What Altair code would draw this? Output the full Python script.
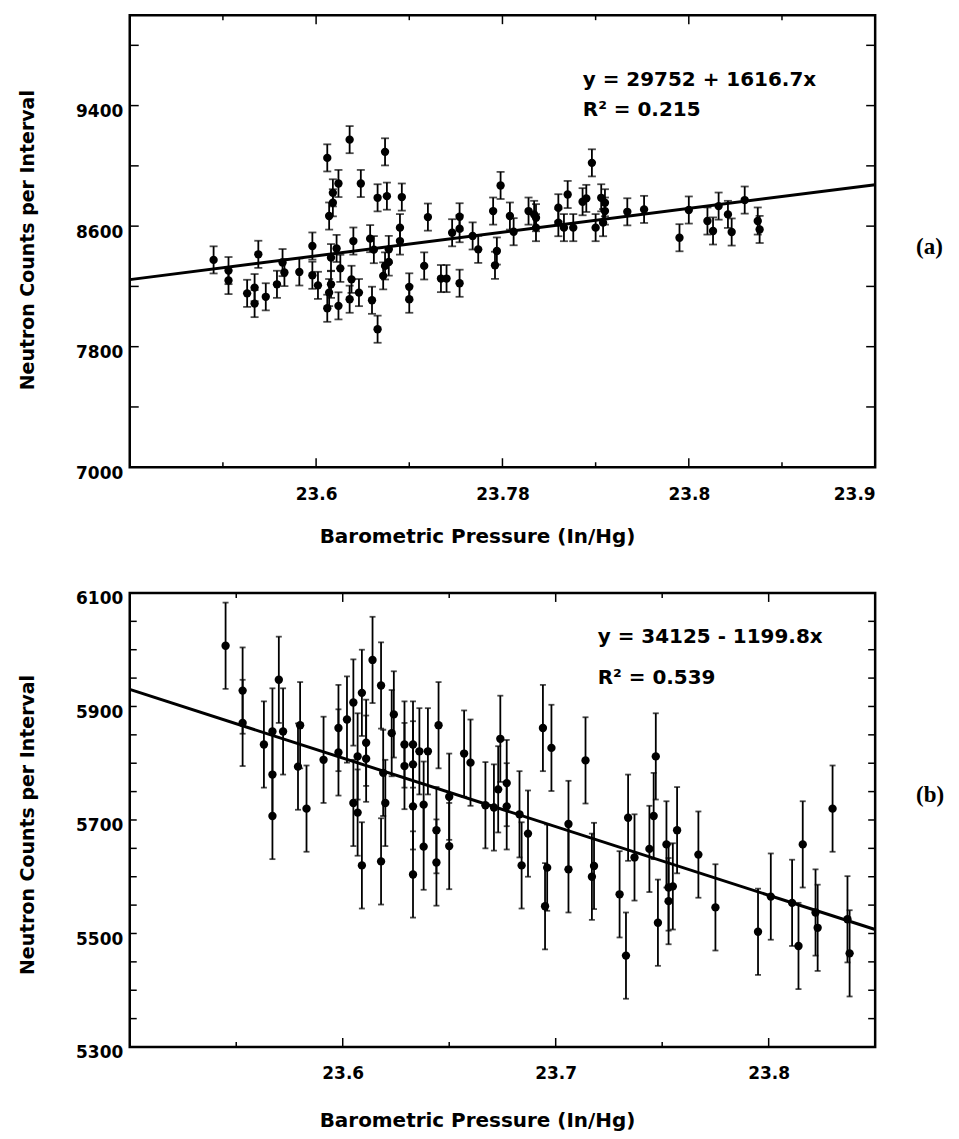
import altair as alt
import pandas as pd

# ---------------- Panel (a) ----------------
A_X = [23.545, 23.553, 23.553, 23.563, 23.567, 23.567, 23.569, 23.573, 23.579, 23.582,
       23.583, 23.591, 23.598, 23.598, 23.601, 23.606, 23.607, 23.609, 23.609, 23.612,
       23.608, 23.611, 23.608, 23.607, 23.606, 23.613, 23.612, 23.618, 23.619, 23.618,
       23.620, 23.623, 23.624, 23.630, 23.633, 23.629, 23.631, 23.633, 23.637, 23.638,
       23.636, 23.637, 23.639, 23.639, 23.646, 23.645, 23.645, 23.650, 23.650, 23.658,
       23.660, 23.667, 23.670, 23.677, 23.673, 23.677, 23.677, 23.684, 23.687, 23.695,
       23.697, 23.696, 23.699, 23.704, 23.706, 23.714, 23.717, 23.718, 23.718, 23.730,
       23.735, 23.733, 23.738, 23.730, 23.743, 23.745, 23.748, 23.750, 23.753, 23.755,
       23.755, 23.754, 23.767, 23.776, 23.795, 23.800, 23.810, 23.813, 23.816, 23.821,
       23.823, 23.830, 23.837, 23.838]
A_Y = [8376, 8305, 8239, 8154, 8192, 8086, 8413, 8131, 8214, 8358,
       8292, 8296, 8468, 8274, 8207, 9053, 8667, 8755, 8821, 8883,
       8391, 8452, 8214, 8159, 8055, 8320, 8071, 9174, 8247, 8115,
       8501, 8159, 8883, 8108, 7916, 8517, 8444, 8788, 9093, 8799,
       8270, 8336, 8362, 8446, 8793, 8590, 8501, 8197, 8115, 8336,
       8660, 8252, 8252, 8221, 8556, 8662, 8583, 8535, 8446, 8700,
       8435, 8340, 8870, 8667, 8563, 8700, 8678, 8656, 8590, 8722,
       8810, 8590, 8590, 8623, 8762, 8784, 9020, 8590, 8788, 8755,
       8700, 8623, 8695, 8711, 8523, 8707, 8634, 8568, 8733, 8678,
       8561, 8773, 8634, 8578]
A_ERR = 90
A_FIT_X = [23.5, 23.9]
A_FIT_Y = [8245, 8875]
A_XDOMAIN = [23.5, 23.9]
A_YDOMAIN = [7000, 10000]
A_XLABEL_VALUES = [23.6, 23.7, 23.8, 23.9]
A_XLABEL_TEXT = ["23.6", "23.78", "23.8", "23.9"]
A_YLABEL_VALUES = [7000, 7800, 8600, 9400]
A_XTICKS_MAJOR = [23.6, 23.7, 23.8]
A_XTICKS_MINOR = [23.55, 23.65, 23.75, 23.85]
A_YTICKS = [7400, 7800, 8200, 8600, 9000, 9400, 9800]
A_EQ = "y = 29752 + 1616.7x"
A_R2 = "R² = 0.215"
A_TAG = "(a)"

# ---------------- Panel (b) ----------------
B_X = [23.545, 23.553, 23.553, 23.563, 23.567, 23.567, 23.567, 23.570, 23.572, 23.580,
       23.579, 23.583, 23.591, 23.598, 23.598, 23.602, 23.605, 23.605, 23.607, 23.607,
       23.609, 23.609, 23.611, 23.611, 23.614, 23.618, 23.618, 23.619, 23.620, 23.623,
       23.624, 23.629, 23.633, 23.629, 23.633, 23.636, 23.640, 23.633, 23.638, 23.633,
       23.638, 23.645, 23.644, 23.644, 23.650, 23.650, 23.657, 23.660, 23.667, 23.674,
       23.673, 23.671, 23.677, 23.677, 23.683, 23.684, 23.687, 23.694, 23.698, 23.696,
       23.695, 23.706, 23.706, 23.714, 23.718, 23.717, 23.730, 23.733, 23.734, 23.737,
       23.744, 23.746, 23.747, 23.748, 23.752, 23.753, 23.753, 23.755, 23.757, 23.767,
       23.775, 23.795, 23.801, 23.811, 23.814, 23.816, 23.822, 23.823, 23.830, 23.837,
       23.838]
B_Y = [6007, 5928, 5871, 5833, 5856, 5780, 5707, 5947, 5856, 5867,
       5794, 5720, 5806, 5862, 5819, 5877, 5907, 5730, 5812, 5713,
       5620, 5924, 5836, 5808, 5982, 5937, 5627, 5783, 5730, 5853,
       5886, 5833, 5833, 5795, 5798, 5821, 5821, 5724, 5727, 5604,
       5653, 5867, 5682, 5625, 5741, 5654, 5817, 5801, 5726, 5843,
       5754, 5722, 5765, 5724, 5710, 5620, 5676, 5862, 5827, 5616,
       5548, 5693, 5613, 5805, 5619, 5600, 5569, 5461, 5704, 5634,
       5649, 5707, 5812, 5519, 5657, 5581, 5557, 5583, 5682, 5639,
       5546, 5503, 5565, 5554, 5478, 5657, 5537, 5510, 5720, 5525,
       5465]
B_ERR = 76
B_FIT_X = [23.5, 23.85]
B_FIT_Y = [5930, 5507]
B_XDOMAIN = [23.5, 23.85]
B_YDOMAIN = [5300, 6100]
B_XLABEL_VALUES = [23.6, 23.7, 23.8]
B_XLABEL_TEXT = ["23.6", "23.7", "23.8"]
B_YLABEL_VALUES = [5300, 5500, 5700, 5900, 6100]
B_XTICKS_MAJOR = [23.6, 23.7, 23.8]
B_XTICKS_MINOR = [23.55, 23.65, 23.75]
B_YTICKS = [5350, 5400, 5450, 5500, 5550, 5600, 5650, 5700, 5750, 5800,
            5850, 5900, 5950, 6000, 6050]
B_EQ = "y = 34125 - 1199.8x"
B_R2 = "R² = 0.539"
B_TAG = "(b)"

X_TITLE = "Barometric Pressure (In/Hg)"
Y_TITLE = "Neutron Counts per Interval"

W = 747
SANS = "DejaVu Sans"


def panel(xs, ys, err, fit_x, fit_y, xdom, ydom, xlab_vals, xlab_text, ylab_vals,
          xt_major, xt_minor, yticks, eq, r2, tag, H, eq_x, eq_y1, eq_y2, tag_y,
          xtitle_y, ytitle_y, cap, ytick_len):
    pts = pd.DataFrame({"x": xs, "y": ys})
    pts["lo"] = pts["y"] - err
    pts["hi"] = pts["y"] + err
    xsc = alt.Scale(domain=xdom, nice=False, zero=False)
    ysc = alt.Scale(domain=ydom, nice=False, zero=False)
    label_expr = ("[" + ",".join("'%s'" % t for t in xlab_text) + "][indexof(["
                  + ",".join(repr(v) for v in xlab_vals) + "], datum.value)]")
    xaxis = alt.Axis(values=xlab_vals, labelExpr=label_expr, title=X_TITLE,
                     titleX=348, titleY=xtitle_y, titleBaseline="middle",
                     titleAlign="center", labelPadding=19, titleFontSize=20)
    yaxis = alt.Axis(values=ylab_vals, format="d", title=Y_TITLE, titleX=-102,
                     titleY=ytitle_y, titleBaseline="middle", titleAlign="center",
                     titleAngle=270, labelPadding=7, labelOffset=6, titleFontSize=19)

    def X(f):
        return alt.X(f, scale=xsc, axis=xaxis)

    def Y(f):
        return alt.Y(f, scale=ysc, axis=yaxis)

    base = alt.Chart(pts)
    bars = base.mark_rule(color="black", strokeWidth=1.8).encode(
        x=X("x:Q"), y=Y("lo:Q"), y2="hi:Q")
    cap_lo = base.mark_tick(orient="horizontal", size=cap, thickness=1.8, color="black").encode(
        x=X("x:Q"), y=Y("lo:Q"))
    cap_hi = base.mark_tick(orient="horizontal", size=cap, thickness=1.8, color="black").encode(
        x=X("x:Q"), y=Y("hi:Q"))
    dots = base.mark_circle(size=70, color="black", opacity=1).encode(
        x=X("x:Q"), y=Y("y:Q"))
    fit = alt.Chart(pd.DataFrame({"x": fit_x, "y": fit_y})).mark_line(
        color="black", strokeWidth=3).encode(x=X("x:Q"), y=Y("y:Q"))

    def xticks(vals, length):
        d = alt.Chart(pd.DataFrame({"x": vals}))
        bot = d.mark_rule(color="black", strokeWidth=1.5).encode(
            x=X("x:Q"), y=alt.value(H), y2=alt.value(H - length))
        top = d.mark_rule(color="black", strokeWidth=1.5).encode(
            x=X("x:Q"), y=alt.value(0), y2=alt.value(length))
        return [bot, top]

    yd = alt.Chart(pd.DataFrame({"y": yticks}))
    left = yd.mark_rule(color="black", strokeWidth=1.5).encode(
        y=Y("y:Q"), x=alt.value(0), x2=alt.value(ytick_len))
    right = yd.mark_rule(color="black", strokeWidth=1.5).encode(
        y=Y("y:Q"), x=alt.value(W), x2=alt.value(W - ytick_len))

    def txt(s, x, y, font=SANS, size=20):
        return alt.Chart(pd.DataFrame({"s": [s]})).mark_text(
            align="left", baseline="middle", font=font, fontWeight="bold",
            fontSize=size, color="black").encode(
            x=alt.value(x), y=alt.value(y), text="s:N")

    layers = [bars, cap_lo, cap_hi, dots, fit] + xticks(xt_major, 9) + xticks(xt_minor, 5) + [
        left, right,
        txt(eq, eq_x, eq_y1), txt(r2, eq_x, eq_y2),
        txt(tag, W + 41, tag_y, font="Liberation Serif", size=23),
    ]
    return alt.layer(*layers).properties(width=W, height=H)


pa = panel(A_X, A_Y, A_ERR, A_FIT_X, A_FIT_Y, A_XDOMAIN, A_YDOMAIN, A_XLABEL_VALUES,
           A_XLABEL_TEXT, A_YLABEL_VALUES, A_XTICKS_MAJOR, A_XTICKS_MINOR, A_YTICKS,
           A_EQ, A_R2, A_TAG, H=453, eq_x=454, eq_y1=65, eq_y2=95, tag_y=232,
           xtitle_y=69, ytitle_y=225, cap=8, ytick_len=9)
pb = panel(B_X, B_Y, B_ERR, B_FIT_X, B_FIT_Y, B_XDOMAIN, B_YDOMAIN, B_XLABEL_VALUES,
           B_XLABEL_TEXT, B_YLABEL_VALUES, B_XTICKS_MAJOR, B_XTICKS_MINOR, B_YTICKS,
           B_EQ, B_R2, B_TAG, H=455, eq_x=469, eq_y1=44, eq_y2=85, tag_y=202,
           xtitle_y=74, ytitle_y=232, cap=6, ytick_len=7)

chart = alt.vconcat(pa, pb, spacing=40).properties(
    padding={"left": 9, "top": 4, "right": 5, "bottom": 5},
    background="white",
).configure_view(
    stroke="black", strokeWidth=2.5
).configure_axis(
    grid=False, domain=False, ticks=False,
    labelFont=SANS, labelFontWeight="bold", labelFontSize=17, labelColor="black",
    titleFont=SANS, titleFontWeight="bold", titleColor="black",
)

chart.save("out.html", embed_options={"renderer": "svg", "actions": False})
